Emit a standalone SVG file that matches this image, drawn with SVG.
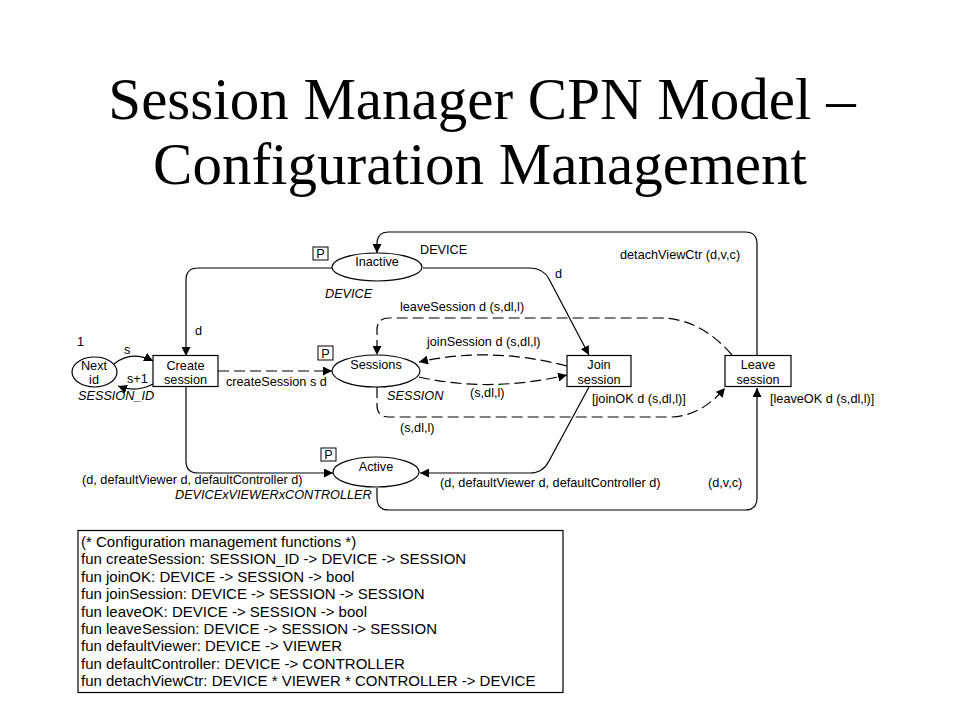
<svg xmlns="http://www.w3.org/2000/svg" width="960" height="720" viewBox="0 0 960 720">
<defs>
<marker id="ah" viewBox="0 0 10 10" refX="10" refY="5" markerWidth="9" markerHeight="9" markerUnits="userSpaceOnUse" orient="auto">
<path d="M0,0 L10,5 L0,10 z" fill="#000"/>
</marker>
<style>
.t{font-family:"Liberation Sans",Arial,sans-serif;font-size:12.7px;fill:#000}
.i{font-style:italic}
.c{text-anchor:middle}
.title{font-family:"Liberation Serif","Times New Roman",serif;font-size:59px;fill:#000;text-anchor:middle}
.fn{font-family:"Liberation Sans",Arial,sans-serif;font-size:15px;fill:#000}
.node{fill:#fff;stroke:#000;stroke-width:1.2}
.arc{fill:none;stroke:#000;stroke-width:1.2;marker-end:url(#ah)}
.d{stroke-dasharray:11 5}
.pb{fill:#fff;stroke:#000;stroke-width:1}
</style>
</defs>
<rect width="960" height="720" fill="#fff"/>
<text class="title" x="482" y="119">Session Manager CPN Model –</text>
<text class="title" x="480" y="184">Configuration Management</text>

<g id="connectors">
<path class="arc" d="M757,355 L757,244 Q757,232 745,232 L389,232 Q377,232 377,244 L377,253"/>
<path class="arc" d="M423,268 L530,268 Q543,268 549,279 L589,355"/>
<path class="arc" d="M332,268 L198,268 Q186,268 186,280 L186,356"/>
<path class="arc" d="M114,364 Q131,350 153,361"/>
<path class="arc" d="M153,384 Q136,393 118,386"/>
<path class="arc d" d="M218,371 L332,371"/>
<path class="arc" d="M186,387 L186,461 Q186,473 198,473 L333,473"/>
<path class="arc" d="M589,387 L549,461 Q543,473 530,473 L420,473"/>
<path class="arc" d="M377,488 L377,498 Q377,510 389,510 L745,510 Q757,510 757,498 L757,388"/>
<path class="arc d" d="M567,366 Q490,346 419,362"/>
<path class="arc d" d="M419,377 Q490,393 567,375"/>
<path class="arc d" d="M732,355 Q700,318 660,318 L389,318 Q377,318 377,330 L377,355"/>
<path class="arc d" d="M377,387 L377,405 Q377,417 389,417 L670,417 Q700,417 725,388"/>
</g>

<g id="inactive">
<ellipse class="node" cx="377" cy="267" rx="45" ry="14"/>
<text class="t c" x="377" y="266">Inactive</text>
<rect class="pb" x="313" y="247" width="15" height="13"/>
<text class="t c" x="320.5" y="258">P</text>
<text class="t i" x="325" y="298">DEVICE</text>
</g>

<g id="sessions">
<ellipse class="node" cx="376" cy="371" rx="44" ry="16"/>
<text class="t c" x="376" y="369">Sessions</text>
<rect class="pb" x="318" y="346" width="15" height="14"/>
<text class="t c" x="325.5" y="358">P</text>
<text class="t i" x="387" y="400">SESSION</text>
</g>

<g id="active">
<ellipse class="node" cx="376" cy="472" rx="43" ry="15"/>
<text class="t c" x="376" y="471">Active</text>
<rect class="pb" x="321" y="448" width="15" height="13"/>
<text class="t c" x="328.5" y="459">P</text>
<text class="t i" x="175" y="499">DEVICExVIEWERxCONTROLLER</text>
</g>

<g id="nextid">
<ellipse class="node" cx="94.5" cy="372" rx="22.5" ry="15"/>
<text class="t c" x="94" y="370">Next</text>
<text class="t c" x="94" y="384">id</text>
<text class="t" x="77" y="346">1</text>
<text class="t i" x="78" y="400">SESSION_ID</text>
</g>

<g id="createsession">
<rect class="node" x="153" y="355.5" width="65" height="31"/>
<text class="t c" x="185.5" y="370">Create</text>
<text class="t c" x="185.5" y="384">session</text>
</g>

<g id="joinsession">
<rect class="node" x="567" y="355.5" width="64" height="31"/>
<text class="t c" x="599" y="369">Join</text>
<text class="t c" x="599" y="384">session</text>
</g>

<g id="leavesession">
<rect class="node" x="725" y="355.5" width="66" height="31"/>
<text class="t c" x="758" y="369">Leave</text>
<text class="t c" x="758" y="384">session</text>
</g>

<g id="labels">
<text class="t" x="124" y="354">s</text>
<text class="t" x="127" y="383">s+1</text>
<text class="t" x="195" y="335">d</text>
<text class="t" x="420" y="254">DEVICE</text>
<text class="t" x="555" y="278">d</text>
<text class="t" x="620" y="259">detachViewCtr (d,v,c)</text>
<text class="t" x="400" y="311">leaveSession d (s,dl,l)</text>
<text class="t" x="427" y="346">joinSession d (s,dl,l)</text>
<text class="t" x="226" y="386">createSession s d</text>
<text class="t" x="470" y="397">(s,dl,l)</text>
<text class="t" x="592" y="403">[joinOK d (s,dl,l)]</text>
<text class="t" x="770" y="403">[leaveOK d (s,dl,l)]</text>
<text class="t" x="400" y="432">(s,dl,l)</text>
<text class="t" x="82" y="484">(d, defaultViewer d, defaultController d)</text>
<text class="t" x="440" y="487">(d, defaultViewer d, defaultController d)</text>
<text class="t" x="708" y="487">(d,v,c)</text>
</g>

<g id="functions">
<rect x="78" y="530.5" width="485" height="162" fill="#fff" stroke="#000" stroke-width="1.2"/>
<text class="fn" x="81" y="547">(* Configuration management functions *)</text>
<text class="fn" x="81" y="564.4">fun createSession: SESSION_ID -&gt; DEVICE -&gt; SESSION</text>
<text class="fn" x="81" y="581.8">fun joinOK: DEVICE -&gt; SESSION -&gt; bool</text>
<text class="fn" x="81" y="599.2">fun joinSession: DEVICE -&gt; SESSION -&gt; SESSION</text>
<text class="fn" x="81" y="616.6">fun leaveOK: DEVICE -&gt; SESSION -&gt; bool</text>
<text class="fn" x="81" y="634">fun leaveSession: DEVICE -&gt; SESSION -&gt; SESSION</text>
<text class="fn" x="81" y="651.4">fun defaultViewer: DEVICE -&gt; VIEWER</text>
<text class="fn" x="81" y="668.8">fun defaultController: DEVICE -&gt; CONTROLLER</text>
<text class="fn" x="81" y="686.2">fun detachViewCtr: DEVICE * VIEWER * CONTROLLER -&gt; DEVICE</text>
</g>
</svg>
